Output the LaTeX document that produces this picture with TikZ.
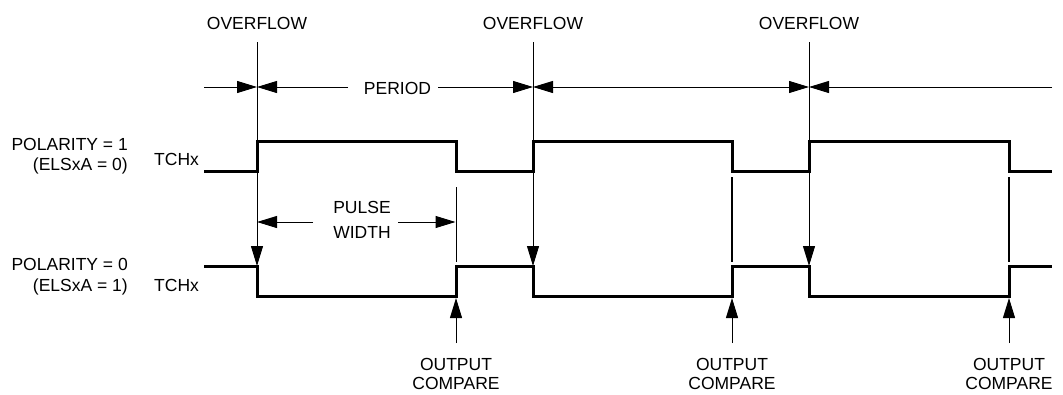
\documentclass[tikz,border=0pt]{standalone}
\usepackage{fontspec}
\setmainfont{Liberation Sans}
\usetikzlibrary{arrows.meta}
\begin{document}
\begin{tikzpicture}[x=1pt,y=-1pt,
  lbl/.style={font=\fontsize{17.5}{21}\selectfont, inner sep=0pt, anchor=base},
  lblr/.style={lbl, anchor=base east},
  lbll/.style={lbl, anchor=base west},
  wave/.style={line width=3pt, line join=miter, line cap=butt},
  conn/.style={line width=1pt},
  tip/.style={-{Triangle[length=20pt,width=12pt]}},
  tips/.style={{Triangle[length=20pt,width=12pt]}-{Triangle[length=20pt,width=12pt]}}
]
\useasboundingbox (0,0) rectangle (1063,394);

% overflow markers
\foreach \x/\n in {257/a,533/b,809/c} {
  \node[lbl] (ov\n) at (\x,29) {OVERFLOW};
  \coordinate (ovt\n) at (\x,42);
  \coordinate (ovb\n) at (\x,266);
  \draw[conn,tip] (ovt\n) -- (ovb\n);
}

% period dimension line
\coordinate (p0) at (204,87);
\coordinate (p1) at (257,87);
\coordinate (p2) at (533,87);
\coordinate (p3) at (809,87);
\coordinate (p4) at (1052,87);
\coordinate (pl) at (348,87);
\coordinate (pr) at (438,87);
\node[lbl] (period) at (397.5,94) {PERIOD};
\draw[conn,tip] (p0) -- (p1);
\draw[conn,tip] (pl) -- (p1);
\draw[conn,tip] (pr) -- (p2);
\draw[conn,tips] (p2) -- (p3);
\draw[conn,tip] (p4) -- (p3);

% waveforms
\draw[wave] (204,171) -- (257,171) -- (257,141) -- (456,141) -- (456,171)
  -- (533,171) -- (533,141) -- (732,141) -- (732,171)
  -- (809,171) -- (809,141) -- (1009,141) -- (1009,171) -- (1052,171);
\draw[wave] (204,266) -- (257,266) -- (257,296) -- (456,296) -- (456,266)
  -- (533,266) -- (533,296) -- (732,296) -- (732,266)
  -- (809,266) -- (809,296) -- (1009,296) -- (1009,266) -- (1052,266);

% pulse width
\node[lbl] (pulse) at (362,213) {PULSE};
\node[lbl] (pwidth) at (362,238) {WIDTH};
\coordinate (pw0) at (257,222);
\coordinate (pw1) at (313,222);
\coordinate (pw2) at (398,222);
\coordinate (pw3) at (455.5,222);
\draw[conn,tip] (pw1) -- (pw0);
\draw[conn,tip] (pw2) -- (pw3);

% output compare markers
\foreach \x/\n/\t/\w in {456/a/187/1pt,732/b/177/1.6pt,1009/c/177/1.6pt} {
  \coordinate (ct\n) at (\x,\t);
  \coordinate (cb\n) at (\x,262);
  \draw[line width=\w] (ct\n) -- (cb\n);
  \coordinate (ua\n) at (\x,343);
  \coordinate (ub\n) at (\x,298);
  \draw[conn,tip] (ua\n) -- (ub\n);
  \node[lbl] (out\n) at (\x,370) {OUTPUT};
  \node[lbl] (cmp\n) at (\x,389) {COMPARE};
}

% left labels
\node[lblr] (pol1) at (128,150) {POLARITY = 1};
\node[lblr] (els0) at (128,170.7) {(ELSxA = 0)};
\node[lbll] (tch1) at (154,165) {TCHx};
\node[lblr] (pol0) at (128,270) {POLARITY = 0};
\node[lblr] (els1) at (128,291) {(ELSxA = 1)};
\node[lbll] (tch0) at (154,291) {TCHx};
\end{tikzpicture}
\end{document}
